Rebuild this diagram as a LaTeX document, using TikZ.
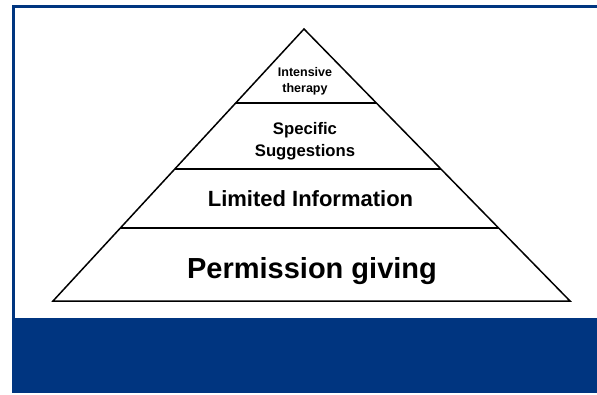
\documentclass[tikz,border=0pt]{standalone}
\usepackage{fontspec}
\setmainfont{Liberation Sans}
\usetikzlibrary{calc}
\definecolor{slideblue}{RGB}{0,53,128}
\begin{document}
\begin{tikzpicture}[x=1pt,y=-1pt,
  frame/.style={draw=slideblue,line width=3pt},
  tier/.style={draw=black,line width=1.5pt,line join=miter},
  tierline/.style={draw=black,line width=1.5pt},
  label/.style={inner sep=0pt,align=center,text=black}]
  \useasboundingbox (0,0) rectangle (597,394);
  % slide frame and footer band
  \fill[slideblue] (12,318) rectangle (597,393);
  \draw[frame] (13.5,318) -- (13.5,6.5) -- (597,6.5);
  % pyramid outline
  \coordinate (apex) at (304,29);
  \coordinate (bl) at (53,301);
  \coordinate (br) at (570,301);
  \draw[tier] (apex) -- (bl) -- (br) -- cycle;
  % tier boundaries
  \coordinate (l1) at ($(bl)!0.728!(apex)$);
  \coordinate (r1) at ($(br)!0.728!(apex)$);
  \coordinate (l2) at ($(bl)!0.485!(apex)$);
  \coordinate (r2) at ($(br)!0.485!(apex)$);
  \coordinate (l3) at ($(bl)!0.268!(apex)$);
  \coordinate (r3) at ($(br)!0.268!(apex)$);
  \draw[tierline] (l1) -- (r1);
  \draw[tierline] (l2) -- (r2);
  \draw[tierline] (l3) -- (r3);
  % tier labels
  \node[label,font={\fontsize{12.5}{16}\selectfont\bfseries}] (intensive) at (305,81) {Intensive\\therapy};
  \node[label,font={\fontsize{16.7}{22}\selectfont\bfseries}] (specific) at (305,141) {Specific\\Suggestions};
  \node[label,font={\fontsize{22}{26}\selectfont\bfseries},anchor=base] (limited) at (310.5,206) {Limited Information};
  \node[label,font={\fontsize{29}{34}\selectfont\bfseries},anchor=base] (permission) at (312,278) {Permission giving};
\end{tikzpicture}
\end{document}
